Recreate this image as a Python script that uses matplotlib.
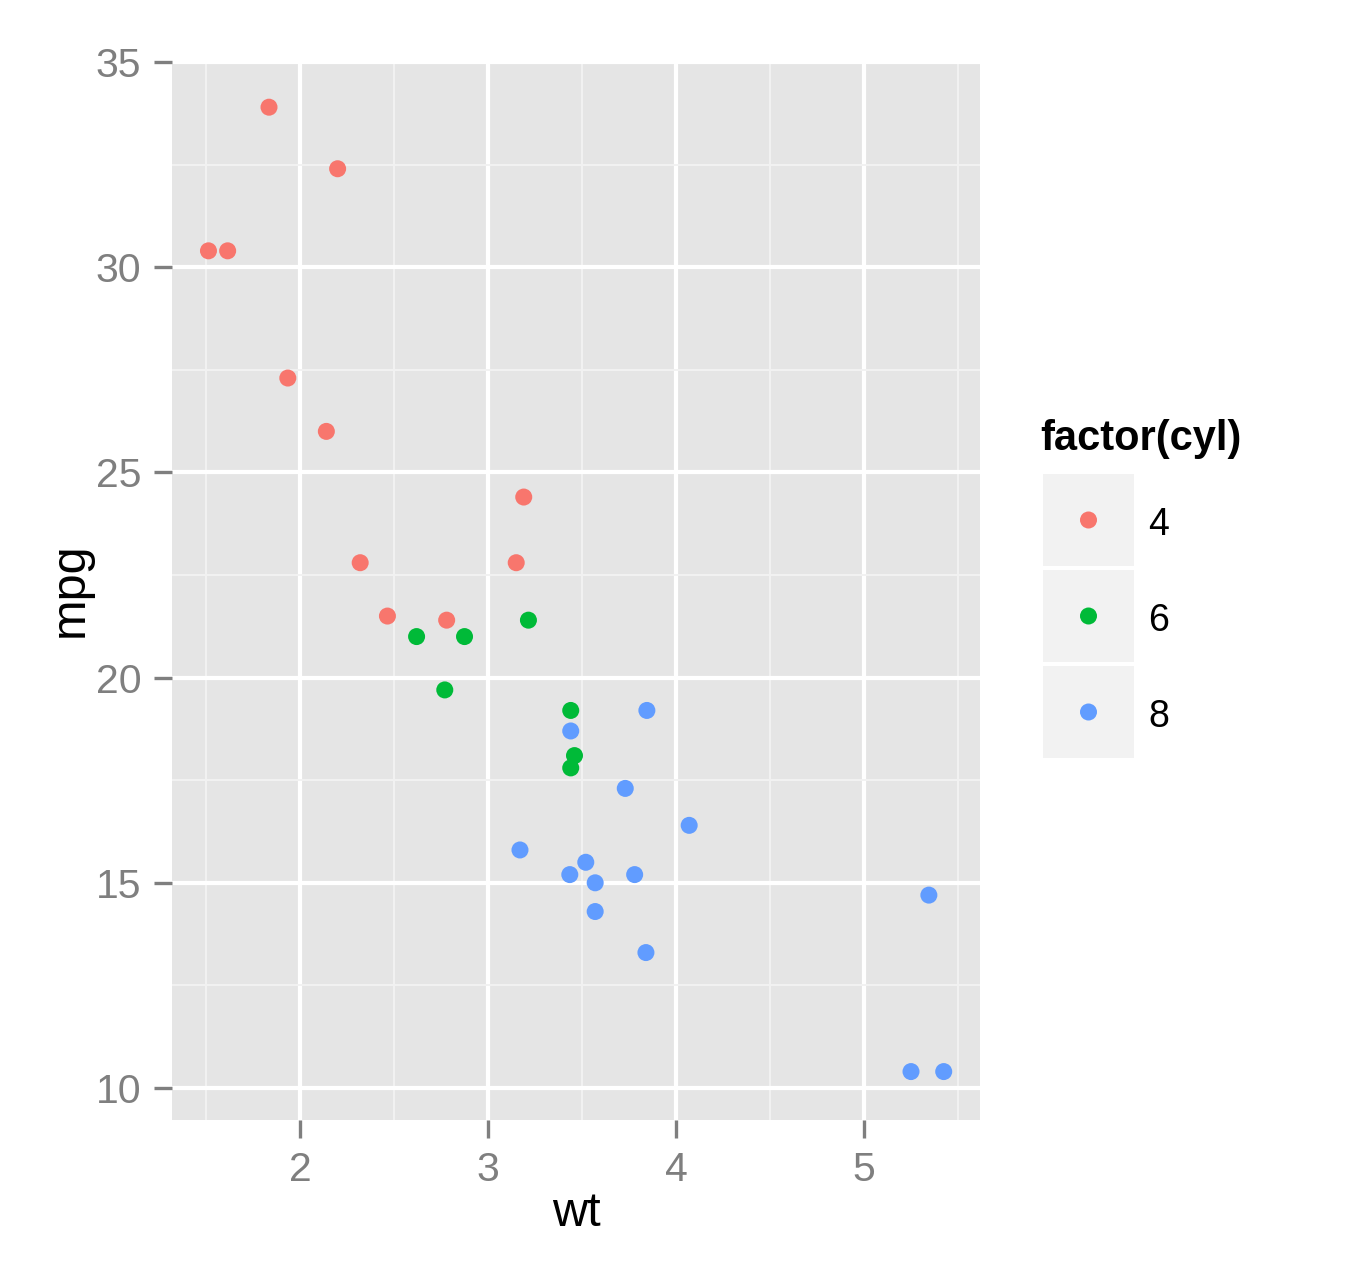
import matplotlib
matplotlib.use("Agg")
import matplotlib.pyplot as plt
from matplotlib.patches import Rectangle
import numpy as np

# mtcars: weight and mpg, grouped by cylinders
wt = [2.620, 2.875, 2.320, 3.215, 3.440, 3.460, 3.570, 3.190, 3.150, 3.440, 3.440,
      4.070, 3.730, 3.780, 5.250, 5.424, 5.345, 2.200, 1.615, 1.835, 2.465, 3.520,
      3.435, 3.840, 3.845, 1.935, 2.140, 1.513, 3.170, 2.770, 3.570, 2.780]
mpg = [21.0, 21.0, 22.8, 21.4, 18.7, 18.1, 14.3, 24.4, 22.8, 19.2, 17.8,
       16.4, 17.3, 15.2, 10.4, 10.4, 14.7, 32.4, 30.4, 33.9, 21.5, 15.5,
       15.2, 13.3, 19.2, 27.3, 26.0, 30.4, 15.8, 19.7, 15.0, 21.4]
cyl = [6, 6, 4, 6, 8, 6, 8, 4, 4, 6, 6,
       8, 8, 8, 8, 8, 8, 4, 4, 4, 4, 8,
       8, 8, 8, 4, 4, 4, 8, 6, 8, 4]
levels = [4, 6, 8]
colors = ['#F8766D', '#00BA38', '#619CFF']

x_ticks = [2, 3, 4, 5]
y_ticks = [10, 15, 20, 25, 30, 35]

plt.rcParams['font.family'] = ['Liberation Sans', 'DejaVu Sans']

W, H = 1350, 1275
fig = plt.figure(figsize=(W / 100, H / 100), dpi=100)
ax = fig.add_axes([172 / W, 1 - 1120 / H, (980 - 172) / W, (1120 - 60) / H])
ax.set_facecolor('#E5E5E5')
for s in ax.spines.values():
    s.set_visible(False)

wt = np.array(wt)
mpg = np.array(mpg)
cyl = np.array(cyl)
for lev, col in zip(levels, colors):
    m = cyl == lev
    ax.scatter(wt[m], mpg[m], s=150, color=col, edgecolors='none', zorder=3)

ax.set_xlim(1.319, 5.617)
ax.set_ylim(9.22, 35.05)
ax.set_xticks(x_ticks)
ax.set_yticks(y_ticks)
ax.set_xticks([1.5, 2.5, 3.5, 4.5, 5.5], minor=True)
ax.set_yticks([12.5, 17.5, 22.5, 27.5, 32.5], minor=True)
ax.grid(which='major', color='white', linewidth=3.0)
ax.grid(which='minor', color='#F2F2F2', linewidth=1.4)
ax.set_axisbelow(True)
ax.tick_params(which='major', length=13, width=2.4, color='#7F7F7F',
               labelsize=29.5, labelcolor='#7F7F7F', pad=9)
ax.tick_params(which='minor', length=0)

fig.text(576 / W, 1 - 1213 / H, 'wt', fontsize=35, ha='center', va='center')
fig.text(70 / W, 1 - 590 / H, 'mpg', fontsize=35, ha='center', va='center',
         rotation=90)

# legend drawn in pixel coordinates
lg = fig.add_axes([0, 0, 1, 1], facecolor='none')
lg.set_xlim(0, W)
lg.set_ylim(H, 0)
lg.axis('off')
lg.text(1040, 450, 'factor(cyl)', fontsize=30, fontweight='bold',
        ha='left', va='baseline')
for i, (lev, col) in enumerate(zip(levels, colors)):
    y0 = 474 + i * 96
    lg.add_patch(Rectangle((1043, y0), 91, 92, facecolor='#F2F2F2',
                           edgecolor='none'))
    lg.scatter([1088.5], [y0 + 46], s=150, color=col, edgecolors='none')
    lg.text(1148, y0 + 61, str(lev), fontsize=27, ha='left', va='baseline')

fig.savefig('out.png', dpi=100, facecolor='white')
